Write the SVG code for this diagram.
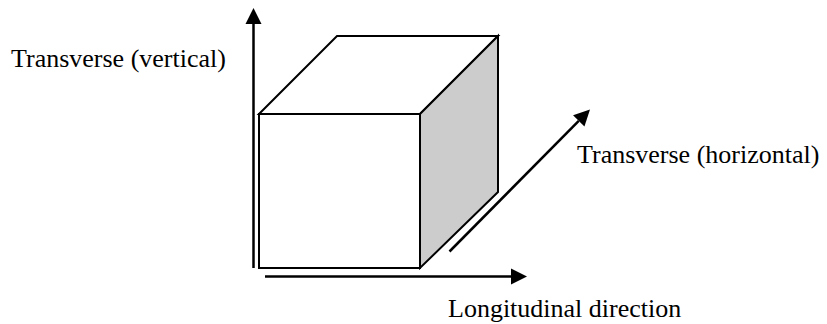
<svg xmlns="http://www.w3.org/2000/svg" width="827" height="324" viewBox="0 0 827 324">
<style>
.face{stroke:#000;stroke-width:2;stroke-linejoin:miter}
.axis{stroke:#000;stroke-width:2.5;fill:none}
.lbl{font-family:"Liberation Serif","Times New Roman",serif;font-size:26px;fill:#000}
</style>
<defs>
<marker id="ah" markerUnits="userSpaceOnUse" markerWidth="16" markerHeight="16" refX="0" refY="8" orient="auto" overflow="visible">
<path d="M0,0 L16,8 L0,16 Z" fill="#000"/>
</marker>
</defs>
<rect width="827" height="324" fill="#fff"/>
<g id="cube">
<polygon class="face" points="259,114 337,36 498,36 420,114" fill="#fff"/>
<polygon class="face" points="420,114 498,36 498,192 420,268" fill="#cccccc"/>
<rect class="face" x="259" y="114" width="161" height="154" fill="#fff"/>
</g>
<g id="connectors">
<line class="axis" x1="253.5" y1="268" x2="253.5" y2="24" marker-end="url(#ah)"/>
<line class="axis" x1="265" y1="276.5" x2="511" y2="276.5" marker-end="url(#ah)"/>
<line class="axis" x1="449.5" y1="251.5" x2="578.75" y2="120.9" marker-end="url(#ah)"/>
</g>
<g id="labels">
<text class="lbl" x="11" y="67">Transverse (vertical)</text>
<text class="lbl" x="577" y="163">Transverse (horizontal)</text>
<text class="lbl" x="448" y="317">Longitudinal direction</text>
</g>
</svg>
